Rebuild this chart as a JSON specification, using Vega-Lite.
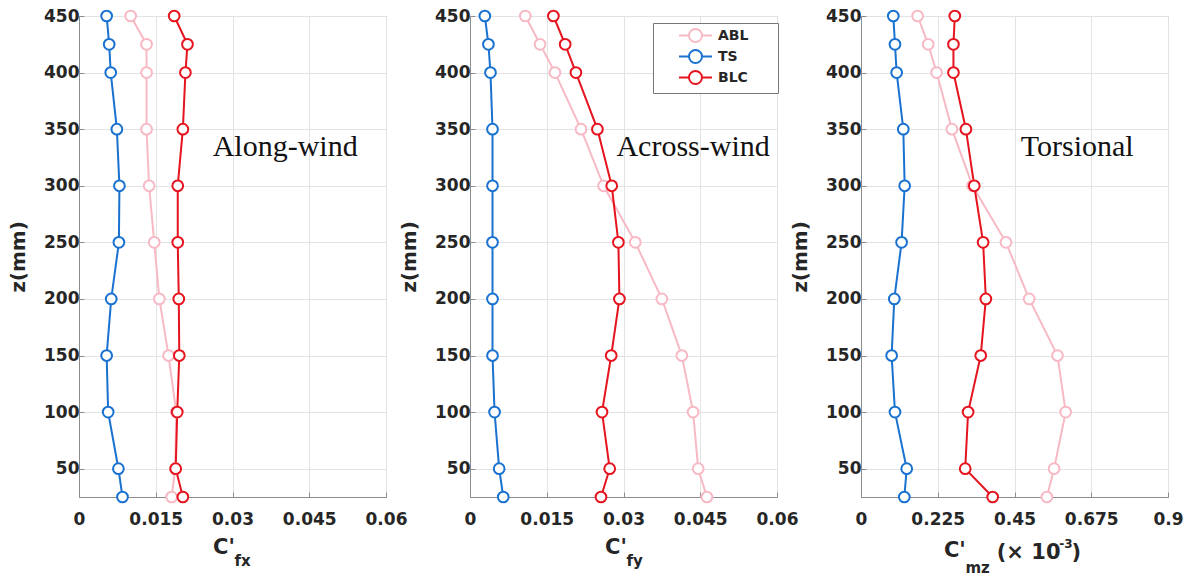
{
  "$schema": "https://vega.github.io/schema/vega-lite/v6.json",
  "background": "white",
  "padding": {"left": 8, "top": 6, "right": 5, "bottom": 2},
  "bounds": "flush",
  "spacing": 84,
  "config": {
    "view": {"stroke": "#8c8c8c", "strokeWidth": 1},
    "axis": {
      "labelFont": "DejaVu Sans", "labelFontWeight": "bold", "labelFontSize": 17, "labelColor": "#262626",
      "titleFont": "DejaVu Sans", "titleFontWeight": "bold", "titleFontSize": 20, "titleColor": "#262626",
      "gridColor": "#e3e3e3", "gridWidth": 1, "domainColor": "#8c8c8c", "tickColor": "#8c8c8c",
      "tickSize": -5, "labelFlush": false, "labelOverlap": false
    }
  },
  "resolve": {"scale": {"color": "independent"}},
  "datasets": {
    "d": [
      {"panel": 1, "series": "ABL", "z": 25, "v": 0.0181},
      {"panel": 1, "series": "ABL", "z": 50, "v": 0.0188},
      {"panel": 1, "series": "ABL", "z": 100, "v": 0.0190},
      {"panel": 1, "series": "ABL", "z": 150, "v": 0.0175},
      {"panel": 1, "series": "ABL", "z": 200, "v": 0.0157},
      {"panel": 1, "series": "ABL", "z": 250, "v": 0.0147},
      {"panel": 1, "series": "ABL", "z": 300, "v": 0.0137},
      {"panel": 1, "series": "ABL", "z": 350, "v": 0.0132},
      {"panel": 1, "series": "ABL", "z": 400, "v": 0.0132},
      {"panel": 1, "series": "ABL", "z": 425, "v": 0.0132},
      {"panel": 1, "series": "ABL", "z": 450, "v": 0.0101},
      {"panel": 1, "series": "TS", "z": 25, "v": 0.0085},
      {"panel": 1, "series": "TS", "z": 50, "v": 0.0077},
      {"panel": 1, "series": "TS", "z": 100, "v": 0.0057},
      {"panel": 1, "series": "TS", "z": 150, "v": 0.0054},
      {"panel": 1, "series": "TS", "z": 200, "v": 0.0063},
      {"panel": 1, "series": "TS", "z": 250, "v": 0.0078},
      {"panel": 1, "series": "TS", "z": 300, "v": 0.0079},
      {"panel": 1, "series": "TS", "z": 350, "v": 0.0074},
      {"panel": 1, "series": "TS", "z": 400, "v": 0.0062},
      {"panel": 1, "series": "TS", "z": 425, "v": 0.0059},
      {"panel": 1, "series": "TS", "z": 450, "v": 0.0054},
      {"panel": 1, "series": "BLC", "z": 25, "v": 0.0203},
      {"panel": 1, "series": "BLC", "z": 50, "v": 0.0189},
      {"panel": 1, "series": "BLC", "z": 100, "v": 0.0192},
      {"panel": 1, "series": "BLC", "z": 150, "v": 0.0196},
      {"panel": 1, "series": "BLC", "z": 200, "v": 0.0195},
      {"panel": 1, "series": "BLC", "z": 250, "v": 0.0193},
      {"panel": 1, "series": "BLC", "z": 300, "v": 0.0193},
      {"panel": 1, "series": "BLC", "z": 350, "v": 0.0203},
      {"panel": 1, "series": "BLC", "z": 400, "v": 0.0208},
      {"panel": 1, "series": "BLC", "z": 425, "v": 0.0212},
      {"panel": 1, "series": "BLC", "z": 450, "v": 0.0186},
      {"panel": 2, "series": "ABL", "z": 25, "v": 0.0463},
      {"panel": 2, "series": "ABL", "z": 50, "v": 0.0446},
      {"panel": 2, "series": "ABL", "z": 100, "v": 0.0436},
      {"panel": 2, "series": "ABL", "z": 150, "v": 0.0414},
      {"panel": 2, "series": "ABL", "z": 200, "v": 0.0375},
      {"panel": 2, "series": "ABL", "z": 250, "v": 0.0323},
      {"panel": 2, "series": "ABL", "z": 300, "v": 0.0261},
      {"panel": 2, "series": "ABL", "z": 350, "v": 0.0217},
      {"panel": 2, "series": "ABL", "z": 400, "v": 0.0166},
      {"panel": 2, "series": "ABL", "z": 425, "v": 0.0137},
      {"panel": 2, "series": "ABL", "z": 450, "v": 0.0108},
      {"panel": 2, "series": "TS", "z": 25, "v": 0.0065},
      {"panel": 2, "series": "TS", "z": 50, "v": 0.0057},
      {"panel": 2, "series": "TS", "z": 100, "v": 0.0048},
      {"panel": 2, "series": "TS", "z": 150, "v": 0.0044},
      {"panel": 2, "series": "TS", "z": 200, "v": 0.0044},
      {"panel": 2, "series": "TS", "z": 250, "v": 0.0044},
      {"panel": 2, "series": "TS", "z": 300, "v": 0.0044},
      {"panel": 2, "series": "TS", "z": 350, "v": 0.0044},
      {"panel": 2, "series": "TS", "z": 400, "v": 0.0040},
      {"panel": 2, "series": "TS", "z": 425, "v": 0.0036},
      {"panel": 2, "series": "TS", "z": 450, "v": 0.0029},
      {"panel": 2, "series": "BLC", "z": 25, "v": 0.0256},
      {"panel": 2, "series": "BLC", "z": 50, "v": 0.0273},
      {"panel": 2, "series": "BLC", "z": 100, "v": 0.0258},
      {"panel": 2, "series": "BLC", "z": 150, "v": 0.0276},
      {"panel": 2, "series": "BLC", "z": 200, "v": 0.0292},
      {"panel": 2, "series": "BLC", "z": 250, "v": 0.0290},
      {"panel": 2, "series": "BLC", "z": 300, "v": 0.0277},
      {"panel": 2, "series": "BLC", "z": 350, "v": 0.0249},
      {"panel": 2, "series": "BLC", "z": 400, "v": 0.0207},
      {"panel": 2, "series": "BLC", "z": 425, "v": 0.0186},
      {"panel": 2, "series": "BLC", "z": 450, "v": 0.0163},
      {"panel": 3, "series": "ABL", "z": 25, "v": 0.545},
      {"panel": 3, "series": "ABL", "z": 50, "v": 0.566},
      {"panel": 3, "series": "ABL", "z": 100, "v": 0.600},
      {"panel": 3, "series": "ABL", "z": 150, "v": 0.576},
      {"panel": 3, "series": "ABL", "z": 200, "v": 0.493},
      {"panel": 3, "series": "ABL", "z": 250, "v": 0.425},
      {"panel": 3, "series": "ABL", "z": 300, "v": 0.327},
      {"panel": 3, "series": "ABL", "z": 350, "v": 0.2665},
      {"panel": 3, "series": "ABL", "z": 400, "v": 0.2216},
      {"panel": 3, "series": "ABL", "z": 425, "v": 0.197},
      {"panel": 3, "series": "ABL", "z": 450, "v": 0.166},
      {"panel": 3, "series": "TS", "z": 25, "v": 0.127},
      {"panel": 3, "series": "TS", "z": 50, "v": 0.134},
      {"panel": 3, "series": "TS", "z": 100, "v": 0.0996},
      {"panel": 3, "series": "TS", "z": 150, "v": 0.0898},
      {"panel": 3, "series": "TS", "z": 200, "v": 0.0976},
      {"panel": 3, "series": "TS", "z": 250, "v": 0.119},
      {"panel": 3, "series": "TS", "z": 300, "v": 0.128},
      {"panel": 3, "series": "TS", "z": 350, "v": 0.124},
      {"panel": 3, "series": "TS", "z": 400, "v": 0.1045},
      {"panel": 3, "series": "TS", "z": 425, "v": 0.0996},
      {"panel": 3, "series": "TS", "z": 450, "v": 0.0947},
      {"panel": 3, "series": "BLC", "z": 25, "v": 0.386},
      {"panel": 3, "series": "BLC", "z": 50, "v": 0.3055},
      {"panel": 3, "series": "BLC", "z": 100, "v": 0.314},
      {"panel": 3, "series": "BLC", "z": 150, "v": 0.351},
      {"panel": 3, "series": "BLC", "z": 200, "v": 0.366},
      {"panel": 3, "series": "BLC", "z": 250, "v": 0.358},
      {"panel": 3, "series": "BLC", "z": 300, "v": 0.332},
      {"panel": 3, "series": "BLC", "z": 350, "v": 0.3075},
      {"panel": 3, "series": "BLC", "z": 400, "v": 0.271},
      {"panel": 3, "series": "BLC", "z": 425, "v": 0.271},
      {"panel": 3, "series": "BLC", "z": 450, "v": 0.275}
    ],
    "notes": [
      {"panel": 1, "role": "note", "t": "Along-wind", "v": 0.0403, "z": 334},
      {"panel": 2, "role": "note", "t": "Across-wind", "v": 0.0436, "z": 334},
      {"panel": 3, "role": "note", "t": "Torsional", "v": 0.634, "z": 334},
      {"panel": 1, "role": "main", "t": "C'", "v": 0.0262, "z": -25},
      {"panel": 1, "role": "sub", "t": "fx", "v": 0.0304, "z": -36},
      {"panel": 2, "role": "main", "t": "C'", "v": 0.0264, "z": -25},
      {"panel": 2, "role": "sub", "t": "fy", "v": 0.0306, "z": -36},
      {"panel": 3, "role": "main", "t": "C'", "v": 0.243, "z": -28},
      {"panel": 3, "role": "sub", "t": "mz", "v": 0.306, "z": -42},
      {"panel": 3, "role": "main", "t": "(× 10", "v": 0.398, "z": -30},
      {"panel": 3, "role": "sup", "t": "-3", "v": 0.581, "z": -20},
      {"panel": 3, "role": "main", "t": ")", "v": 0.617, "z": -30}
    ]
  },
  "hconcat": [
    {
      "width": 307, "height": 481,
      "layer": [
        {
          "data": {"name": "d"},
          "transform": [{"filter": "datum.panel == 1"}],
          "mark": {"type": "line", "strokeWidth": 2, "point": {"filled": false, "fill": "white", "size": 115, "strokeWidth": 2}},
          "encoding": {
            "x": {"field": "v", "type": "quantitative", "scale": {"domain": [0, 0.06], "nice": false, "zero": false},
                  "axis": {"values": [0, 0.015, 0.03, 0.045, 0.06], "labelExpr": "'' + datum.value", "title": null, "labelPadding": 19}},
            "y": {"field": "z", "type": "quantitative", "scale": {"domain": [25, 450], "nice": false, "zero": false},
                  "axis": {"values": [50, 100, 150, 200, 250, 300, 350, 400, 450], "title": "z(mm)", "labelPadding": 5, "titlePadding": 15}},
            "color": {"field": "series", "type": "nominal", "scale": {"domain": ["ABL", "TS", "BLC"], "range": ["#f7b9c4", "#1a72d0", "#e5141f"]}, "legend": null},
            "order": {"field": "z", "type": "quantitative"}
          }
        },
        {
          "data": {"name": "notes"},
          "transform": [{"filter": "datum.panel == 1 && datum.role == 'note'"}],
          "mark": {"type": "text", "font": "Liberation Serif", "fontSize": 30, "align": "center", "baseline": "middle", "color": "#111111"},
          "encoding": {"x": {"field": "v", "type": "quantitative"}, "y": {"field": "z", "type": "quantitative"}, "text": {"field": "t"}}
        },
        {
          "data": {"name": "notes"},
          "transform": [{"filter": "datum.panel == 1 && datum.role == 'main'"}],
          "mark": {"type": "text", "font": "DejaVu Sans", "fontWeight": "bold", "fontSize": 21, "align": "left", "baseline": "alphabetic", "color": "#262626"},
          "encoding": {"x": {"field": "v", "type": "quantitative"}, "y": {"field": "z", "type": "quantitative"}, "text": {"field": "t"}}
        },
        {
          "data": {"name": "notes"},
          "transform": [{"filter": "datum.panel == 1 && datum.role == 'sub'"}],
          "mark": {"type": "text", "font": "DejaVu Sans", "fontWeight": "bold", "fontSize": 15, "align": "left", "baseline": "alphabetic", "color": "#262626"},
          "encoding": {"x": {"field": "v", "type": "quantitative"}, "y": {"field": "z", "type": "quantitative"}, "text": {"field": "t"}}
        }
      ]
    },
    {
      "width": 307, "height": 481,
      "layer": [
        {
          "data": {"name": "d"},
          "transform": [{"filter": "datum.panel == 2"}],
          "mark": {"type": "line", "strokeWidth": 2, "point": {"filled": false, "fill": "white", "size": 115, "strokeWidth": 2}},
          "encoding": {
            "x": {"field": "v", "type": "quantitative", "scale": {"domain": [0, 0.06], "nice": false, "zero": false},
                  "axis": {"values": [0, 0.015, 0.03, 0.045, 0.06], "labelExpr": "'' + datum.value", "title": null, "labelPadding": 19}},
            "y": {"field": "z", "type": "quantitative", "scale": {"domain": [25, 450], "nice": false, "zero": false},
                  "axis": {"values": [50, 100, 150, 200, 250, 300, 350, 400, 450], "title": "z(mm)", "labelPadding": 5, "titlePadding": 15}},
            "color": {"field": "series", "type": "nominal", "scale": {"domain": ["ABL", "TS", "BLC"], "range": ["#f7b9c4", "#1a72d0", "#e5141f"]},
                      "legend": {"orient": "none", "legendX": 183, "legendY": 7, "title": null,
                                 "symbolType": "M-2.54,0L-1,0M1,0L2.54,0M1,0A1,1,0,1,1,-1,0A1,1,0,1,1,1,0Z",
                                 "symbolSize": 169, "symbolStrokeWidth": 2, "symbolFillColor": "white",
                                 "symbolOffset": 30, "labelOffset": 15,
                                 "labelFont": "DejaVu Sans", "labelFontWeight": "bold", "labelFontSize": 14, "labelColor": "#262626",
                                 "rowPadding": 0, "padding": 5, "strokeColor": "#777777", "fillColor": "white",
                                 "labelExpr": "datum.label + '\u00a0\u00a0\u00a0\u00a0\u00a0\u200b'"}},
            "order": {"field": "z", "type": "quantitative"}
          }
        },
        {
          "data": {"name": "notes"},
          "transform": [{"filter": "datum.panel == 2 && datum.role == 'note'"}],
          "mark": {"type": "text", "font": "Liberation Serif", "fontSize": 30, "align": "center", "baseline": "middle", "color": "#111111"},
          "encoding": {"x": {"field": "v", "type": "quantitative"}, "y": {"field": "z", "type": "quantitative"}, "text": {"field": "t"}}
        },
        {
          "data": {"name": "notes"},
          "transform": [{"filter": "datum.panel == 2 && datum.role == 'main'"}],
          "mark": {"type": "text", "font": "DejaVu Sans", "fontWeight": "bold", "fontSize": 21, "align": "left", "baseline": "alphabetic", "color": "#262626"},
          "encoding": {"x": {"field": "v", "type": "quantitative"}, "y": {"field": "z", "type": "quantitative"}, "text": {"field": "t"}}
        },
        {
          "data": {"name": "notes"},
          "transform": [{"filter": "datum.panel == 2 && datum.role == 'sub'"}],
          "mark": {"type": "text", "font": "DejaVu Sans", "fontWeight": "bold", "fontSize": 15, "align": "left", "baseline": "alphabetic", "color": "#262626"},
          "encoding": {"x": {"field": "v", "type": "quantitative"}, "y": {"field": "z", "type": "quantitative"}, "text": {"field": "t"}}
        }
      ]
    },
    {
      "width": 307, "height": 481,
      "layer": [
        {
          "data": {"name": "d"},
          "transform": [{"filter": "datum.panel == 3"}],
          "mark": {"type": "line", "strokeWidth": 2, "point": {"filled": false, "fill": "white", "size": 115, "strokeWidth": 2}},
          "encoding": {
            "x": {"field": "v", "type": "quantitative", "scale": {"domain": [0, 0.9], "nice": false, "zero": false},
                  "axis": {"values": [0, 0.225, 0.45, 0.675, 0.9], "labelExpr": "'' + datum.value", "title": null, "labelPadding": 19}},
            "y": {"field": "z", "type": "quantitative", "scale": {"domain": [25, 450], "nice": false, "zero": false},
                  "axis": {"values": [50, 100, 150, 200, 250, 300, 350, 400, 450], "title": "z(mm)", "labelPadding": 5, "titlePadding": 15}},
            "color": {"field": "series", "type": "nominal", "scale": {"domain": ["ABL", "TS", "BLC"], "range": ["#f7b9c4", "#1a72d0", "#e5141f"]}, "legend": null},
            "order": {"field": "z", "type": "quantitative"}
          }
        },
        {
          "data": {"name": "notes"},
          "transform": [{"filter": "datum.panel == 3 && datum.role == 'note'"}],
          "mark": {"type": "text", "font": "Liberation Serif", "fontSize": 30, "align": "center", "baseline": "middle", "color": "#111111"},
          "encoding": {"x": {"field": "v", "type": "quantitative"}, "y": {"field": "z", "type": "quantitative"}, "text": {"field": "t"}}
        },
        {
          "data": {"name": "notes"},
          "transform": [{"filter": "datum.panel == 3 && datum.role == 'main'"}],
          "mark": {"type": "text", "font": "DejaVu Sans", "fontWeight": "bold", "fontSize": 21, "align": "left", "baseline": "alphabetic", "color": "#262626"},
          "encoding": {"x": {"field": "v", "type": "quantitative"}, "y": {"field": "z", "type": "quantitative"}, "text": {"field": "t"}}
        },
        {
          "data": {"name": "notes"},
          "transform": [{"filter": "datum.panel == 3 && datum.role == 'sub'"}],
          "mark": {"type": "text", "font": "DejaVu Sans", "fontWeight": "bold", "fontSize": 15, "align": "left", "baseline": "alphabetic", "color": "#262626"},
          "encoding": {"x": {"field": "v", "type": "quantitative"}, "y": {"field": "z", "type": "quantitative"}, "text": {"field": "t"}}
        },
        {
          "data": {"name": "notes"},
          "transform": [{"filter": "datum.panel == 3 && datum.role == 'sup'"}],
          "mark": {"type": "text", "font": "DejaVu Sans", "fontWeight": "bold", "fontSize": 12, "align": "left", "baseline": "alphabetic", "color": "#262626"},
          "encoding": {"x": {"field": "v", "type": "quantitative"}, "y": {"field": "z", "type": "quantitative"}, "text": {"field": "t"}}
        }
      ]
    }
  ]
}
